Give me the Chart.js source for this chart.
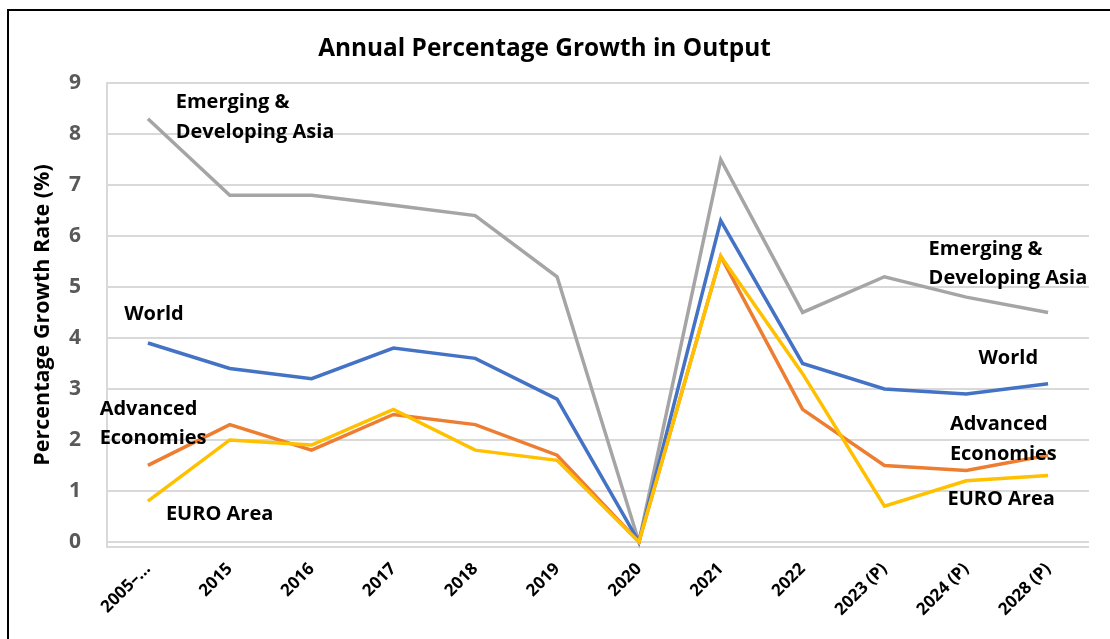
<!DOCTYPE html>
<html>
<head>
<meta charset="utf-8">
<script src="https://cdn.jsdelivr.net/npm/chart.js@4.4.1/dist/chart.umd.min.js"></script>
<style>
  html, body { margin: 0; padding: 0; background: #fff; }
  #wrap { position: relative; width: 1110px; height: 639px; overflow: hidden; }
  #frame { position: absolute; left: 7px; top: 9px; width: 1200px; height: 700px;
           border-top: 2px solid #000; border-left: 2px solid #000; box-sizing: border-box; pointer-events: none; }
  canvas { position: absolute; left: 0; top: 0; }
</style>
</head>
<body>
<div id="wrap">
  <canvas id="c" width="1110" height="639"></canvas>
  <div id="frame"></div>
</div>
<script>
const categories = ["2005–…", "2015", "2016", "2017", "2018", "2019", "2020", "2021", "2022", "2023 (P)", "2024 (P)", "2028 (P)"];
const emergingAsia = [8.3, 6.8, 6.8, 6.6, 6.4, 5.2, 0, 7.5, 4.5, 5.2, 4.8, 4.5];
const world        = [3.9, 3.4, 3.2, 3.8, 3.6, 2.8, 0, 6.3, 3.5, 3.0, 2.9, 3.1];
const advanced     = [1.5, 2.3, 1.8, 2.5, 2.3, 1.7, 0, 5.6, 2.6, 1.5, 1.4, 1.7];
const euroArea     = [0.8, 2.0, 1.9, 2.6, 1.8, 1.6, 0, 5.6, 3.3, 0.7, 1.2, 1.3];
const yTicks = [0, 1, 2, 3, 4, 5, 6, 7, 8, 9];

// in-chart series labels: [text, category position, value]
const seriesLabels = [
  ["Emerging &", 0.34, 8.62], ["Developing Asia", 0.34, 8.03],
  ["World", -0.29, 4.46],
  ["Advanced", -0.59, 2.61], ["Economies", -0.59, 2.04],
  ["EURO Area", 0.22, 0.55],
  ["Emerging &", 9.54, 5.74], ["Developing Asia", 9.54, 5.16],
  ["World", 10.15, 3.60],
  ["Advanced", 9.80, 2.30], ["Economies", 9.80, 1.71],
  ["EURO Area", 9.77, 0.84]
];

const FONT = "'Open Sans', 'Noto Sans', sans-serif";

const labelPlugin = {
  id: 'seriesLabels',
  afterDatasetsDraw(chart) {
    const ctx = chart.ctx, xs = chart.scales.x, ys = chart.scales.y;
    ctx.save();
    ctx.font = "bold 20px " + FONT;
    ctx.fillStyle = "#000";
    ctx.textAlign = "left";
    ctx.textBaseline = "middle";
    seriesLabels.forEach(([t, cx, v]) => {
      ctx.fillText(t, xs.getPixelForValue(cx), ys.getPixelForValue(v));
    });
    ctx.restore();
  }
};

const ds = (label, data, color, order) => ({
  label, data, borderColor: color, backgroundColor: color,
  borderWidth: 3.5, pointRadius: 0, tension: 0, order, clip: false
});

new Chart(document.getElementById('c'), {
  type: 'line',
  data: {
    labels: categories,
    datasets: [
      ds("Emerging & Developing Asia", emergingAsia, "#A5A5A5", 4),
      ds("World", world, "#4472C4", 3),
      ds("Advanced Economies", advanced, "#ED7D31", 2),
      ds("EURO Area", euroArea, "#FFC000", 1)
    ]
  },
  options: {
    responsive: false,
    animation: false,
    layout: { padding: { top: 34, left: 0, right: 21, bottom: 0 } },
    plugins: {
      legend: { display: false },
      tooltip: { enabled: false },
      title: {
        display: true,
        text: "Annual Percentage Growth in Output",
        color: "#000",
        font: { family: FONT, size: 24.4, weight: 'bold', lineHeight: 1.2 },
        padding: { top: 0, bottom: 19.7 }
      }
    },
    scales: {
      x: {
        type: 'category',
        offset: true,
        grid: { display: false, drawTicks: false },
        border: { display: false },
        ticks: {
          color: "#000",
          font: { family: FONT, size: 17, weight: 'bold' },
          maxRotation: 45, minRotation: 45, autoSkip: false, padding: 12
        },
        afterFit(scale) { scale.height = 92; }
      },
      y: {
        min: -0.1, max: 9,
        grid: { color: "#d9d9d9", lineWidth: 2, drawTicks: false },
        border: { display: true, color: "#d9d9d9", width: 2 },
        afterBuildTicks(axis) { axis.ticks = yTicks.map(v => ({ value: v })); },
        ticks: {
          color: "#595959",
          font: { family: FONT, size: 21, weight: 'bold' },
          padding: 26
        },
        title: {
          display: true,
          text: "Percentage Growth Rate (%)",
          color: "#000",
          font: { family: FONT, size: 21.5, weight: 'bold' },
          padding: { top: 30, bottom: 0 }
        },
        afterFit(scale) { scale.width = 107; }
      }
    }
  },
  plugins: [labelPlugin, {
    id: 'bottomLine',
    beforeDatasetsDraw(chart) {
      const a = chart.chartArea, ctx = chart.ctx;
      ctx.save();
      ctx.strokeStyle = "#d9d9d9"; ctx.lineWidth = 2;
      ctx.beginPath(); ctx.moveTo(a.left, a.bottom); ctx.lineTo(a.right, a.bottom); ctx.stroke();
      ctx.restore();
    }
  }]
});
</script>
</body>
</html>
